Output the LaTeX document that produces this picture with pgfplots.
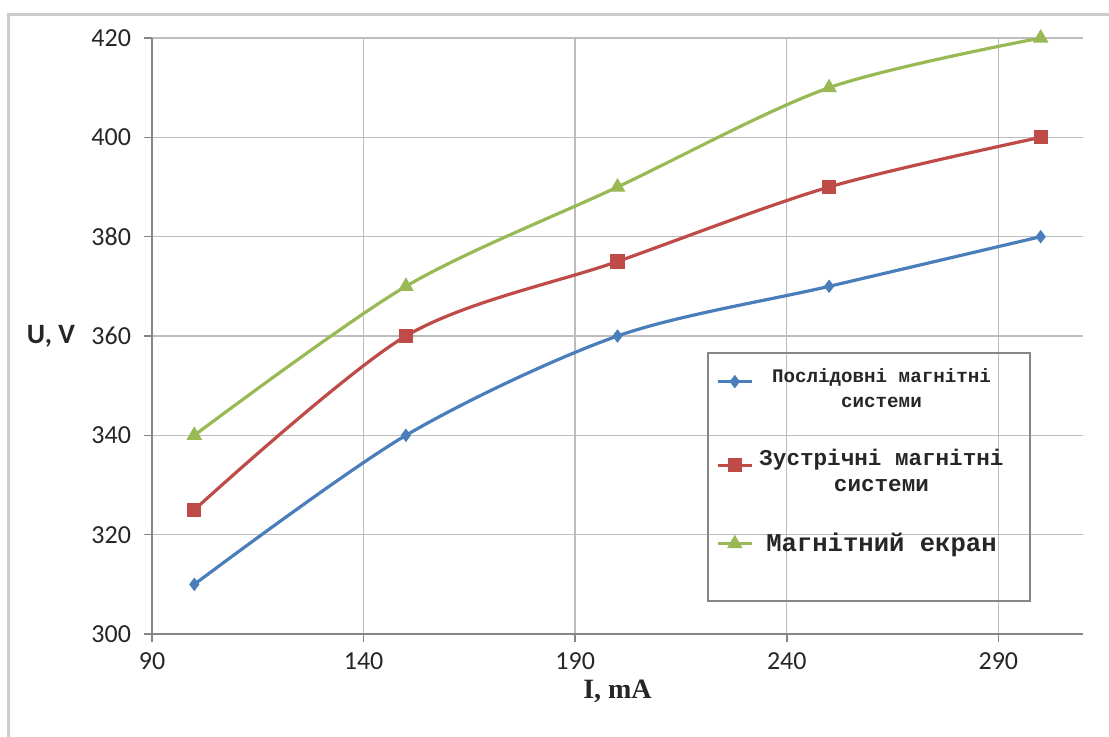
\documentclass[border=0pt]{standalone}
\usepackage{fontspec}
\setmainfont{Carlito}
\newfontfamily\mono{Liberation Mono}
\newfontfamily\tnr{Liberation Serif}
\usepackage{pgfplots}
\pgfplotsset{compat=1.18}
\definecolor{sblue}{HTML}{4A7EBB}
\definecolor{sred}{HTML}{BE4B48}
\definecolor{sgreen}{HTML}{98B954}
\definecolor{gridc}{HTML}{BDBDBD}
\definecolor{axc}{HTML}{868686}
\definecolor{txt}{HTML}{262626}
\begin{document}
\begin{tikzpicture}
\useasboundingbox (-76pt,-51pt) rectangle (478.5pt,317pt);
\draw[color=gray!40, line width=1.5pt] (-71.5pt,-60pt) -- (-71.5pt,310pt) -- (490pt,310pt);
\begin{axis}[
  at={(0pt,0pt)}, anchor=south west,
  scale only axis, width=465.5pt, height=298pt,
  xmin=90, xmax=310, ymin=300, ymax=420,
  xtick={90,140,190,240,290},
  ytick={300,320,340,360,380,400,420},
  axis x line*=bottom, axis y line*=left,
  axis line style={axc, line width=0.8pt, -},
  grid=major, major grid style={gridc, line width=0.7pt},
  tick style={axc, line width=0.8pt},
  tick align=outside, major tick length=4pt,
  /pgf/number format/assume math mode=true,
  /pgf/number format/1000 sep={},
  ticklabel style={font=\fontsize{13}{15}\selectfont, text=txt},
  xticklabel style={yshift=-2pt},
  yticklabel style={xshift=-3pt},
  xlabel={\tnr\bfseries I, mA},
  xlabel style={font=\fontsize{14}{16}\selectfont, text=txt, yshift=2pt},
  ylabel={\bfseries U, V},
  ylabel style={font=\fontsize{14}{16}\selectfont, text=txt, at={(axis description cs:0,0.5)}, rotate=-90, anchor=east, xshift=-35pt},
  legend style={name=leg, at={(rel axis cs:0.597,0.4715)}, anchor=north west, draw=none, fill=none,
    text=txt, inner sep=4pt, row sep=21.5pt, column sep=1pt, cells={anchor=center}},
  legend cell align=center,
  legend image code/.code={
    \draw[#1, line width=1.6pt] (0pt,0pt) -- (17pt,0pt);
    \draw[#1, mark repeat=2, mark phase=2] plot coordinates {(0pt,0pt) (8.5pt,0pt) (17pt,0pt)};
  },
]
\addplot[sblue, line width=1.6pt, smooth, mark=diamond*, mark size=3pt, mark options={fill=sblue, line width=0.5pt}]
  coordinates {(100,310) (150,340) (200,360) (250,370) (300,380)};
\addlegendentry{\begin{tabular}{@{}c@{}}\mono\bfseries\fontsize{9.6}{12}\selectfont Послідовні магнітні\\[0.5pt]\mono\bfseries\fontsize{9.6}{12}\selectfont системи\end{tabular}}
\addplot[sred, line width=1.6pt, smooth, mark=square*, mark size=3.3pt, mark options={fill=sred, line width=0.5pt}]
  coordinates {(100,325) (150,360) (200,375) (250,390) (300,400)};
\addlegendentry{\begin{tabular}{@{}c@{}}\mono\bfseries\fontsize{11.3}{13}\selectfont Зустрічні магнітні\\[1pt]\mono\bfseries\fontsize{11.3}{13}\selectfont системи\end{tabular}}
\addplot[sgreen, line width=1.6pt, smooth, mark=triangle*, mark size=4pt, mark options={fill=sgreen, line width=0.5pt}]
  coordinates {(100,340) (150,370) (200,390) (250,410) (300,420)};
\addlegendentry{\mono\bfseries\fontsize{12.8}{15}\selectfont Магнітний екран}
\end{axis}
\draw[axc, line width=0.8pt] (leg.north west) rectangle ([xshift=7pt,yshift=-17pt]leg.south east);
\end{tikzpicture}
\end{document}
